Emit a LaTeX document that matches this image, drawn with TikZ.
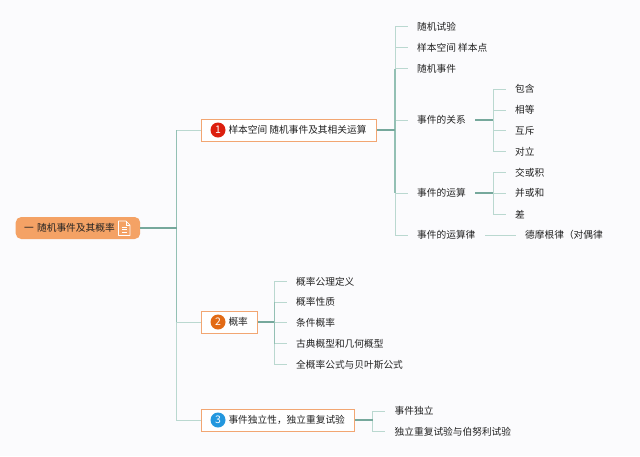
\documentclass[tikz,border=0pt]{standalone}
\usepackage{fontspec}
\setmainfont{Noto Sans CJK SC}
\definecolor{pagebg}{HTML}{FBFBFD}
\definecolor{rootfill}{HTML}{F4A265}
\definecolor{boxline}{HTML}{F2A672}
\definecolor{twigline}{HTML}{BAD8D0}
\definecolor{midline}{HTML}{93C0B4}
\definecolor{stemline}{HTML}{76A89C}
\definecolor{inktext}{HTML}{222222}
\definecolor{badgered}{HTML}{DC1F0E}
\definecolor{badgeorange}{HTML}{E26A14}
\definecolor{badgeblue}{HTML}{2397DE}
\tikzset{
    every node/.style = {font = \fontsize{9.7}{11}\selectfont, text = inktext},
    rootnode/.style = {fill = rootfill, rounded corners = 5.5pt, minimum height = 22pt, text width = 107.5pt, inner xsep = 8.5pt, inner ysep = 0pt, anchor = west, align = left},
    topicbox/.style = {draw = boxline, fill = white, line width = 1pt, minimum height = 22pt, inner xsep = 10pt, inner ysep = 0pt, anchor = west},
    badge/.style = {circle, minimum size = 15pt, inner sep = 0pt, text = white, font = \fontsize{10.5}{11}\selectfont},
    leaf/.style = {anchor = west, inner xsep = 9.5pt, inner ysep = 1pt},
    twig/.style = {draw = twigline, line width = 1pt},
    trunkmid/.style = {draw = midline, line width = 1.3pt},
    stem/.style = {draw = stemline, line width = 1.3pt}
}
\begin{document}
\begin{tikzpicture}[x = 1pt, y = -1pt]
    \fill[pagebg] (0,0) rectangle (640,456);
    \useasboundingbox (0,0) rectangle (640,456);

    % trunk points
    \coordinate (trunkroot) at (176.5,228);
    \coordinate (trunksample) at (395,130);
    \coordinate (trunkrelation) at (493,120);
    \coordinate (trunkoperation) at (493,193);
    \coordinate (trunkprob) at (274.3,322);
    \coordinate (trunkindep) at (372.7,420);

    % centre and topics
    \node[rootnode] (root) at (15.5,228) {一 随机事件及其概率};
    \node[topicbox] (sample) at (201,130) {\hspace{17pt}样本空间 随机事件及其相关运算};
    \node[topicbox] (prob) at (201,322) {\hspace{17pt}概率};
    \node[topicbox] (indep) at (201,420) {\hspace{17pt}事件独立性，独立重复试验};
    \node[badge, fill = badgered] (badgeone) at (218,130) {1};
    \node[badge, fill = badgeorange] (badgetwo) at (218,322) {2};
    \node[badge, fill = badgeblue] (badgethree) at (218,420) {3};

    % document icon on the centre node
    \draw[white, line width = 0.7pt, line join = round] (118.5,221) -- (126,221) -- (130,225) -- (130,235.5) -- (118.5,235.5) -- cycle;
    \draw[white, line width = 0.7pt] (126,221) -- (126,225) -- (130,225);
    \foreach \ypos in {227,229.5,232}
        \draw[white, line width = 0.7pt] (122,\ypos) -- (127,\ypos);

    % leaves
    \foreach \name/\xpos/\ypos/\label in {
        trial/407.5/26.5/随机试验, space/407.5/47.5/样本空间 样本点, event/407.5/68.5/随机事件,
        relation/407.5/120/事件的关系, operation/407.5/193/事件的运算, law/407.5/235/事件的运算律,
        contain/505.5/89/包含, equal/505.5/110/相等, exclude/505.5/130.5/互斥, oppose/505.5/151.5/对立,
        product/505.5/172.5/交或积, union/505.5/193/并或和, differ/505.5/214.5/差,
        demorgan/515.5/235/德摩根律（对偶律,
        axiom/286.5/281.5/概率公理定义, property/286.5/302/概率性质, conditional/286.5/322.5/条件概率,
        classic/286.5/343.5/古典概型和几何概型, total/286.5/364.5/全概率公式与贝叶斯公式,
        independent/385/411/事件独立, bernoulli/385/431.5/独立重复试验与伯努利试验}
        \node[leaf] (\name) at (\xpos,\ypos) {\label};

    % connectors
    \foreach \from/\to in {
        trunkroot/sample, trunkroot/prob, trunkroot/indep,
        trunksample/trial, trunksample/space, trunksample/event, trunksample/relation, trunksample/operation, trunksample/law,
        trunkrelation/contain, trunkrelation/equal, trunkrelation/exclude, trunkrelation/oppose,
        trunkoperation/product, trunkoperation/union, trunkoperation/differ,
        trunkprob/axiom, trunkprob/property, trunkprob/conditional, trunkprob/classic, trunkprob/total,
        trunkindep/independent, trunkindep/bernoulli}
        \draw[twig] (\from) |- (\to.west);
    \draw[twig] (law.east) -- (demorgan.west);
    \draw[trunkmid] (trunksample |- event.west) -- (trunksample |- operation.west);
    \draw[trunkmid] (trunkroot |- prob.west) -- (trunkroot |- sample.west);
    \draw[trunkmid] (trunkprob |- property.west) -- (trunkprob |- classic.west);
    \foreach \from/\to in {root.east/trunkroot, sample.east/trunksample, relation.east/trunkrelation, operation.east/trunkoperation, prob.east/trunkprob, indep.east/trunkindep}
        \draw[stem] (\from) -- (\to);
\end{tikzpicture}
\end{document}
